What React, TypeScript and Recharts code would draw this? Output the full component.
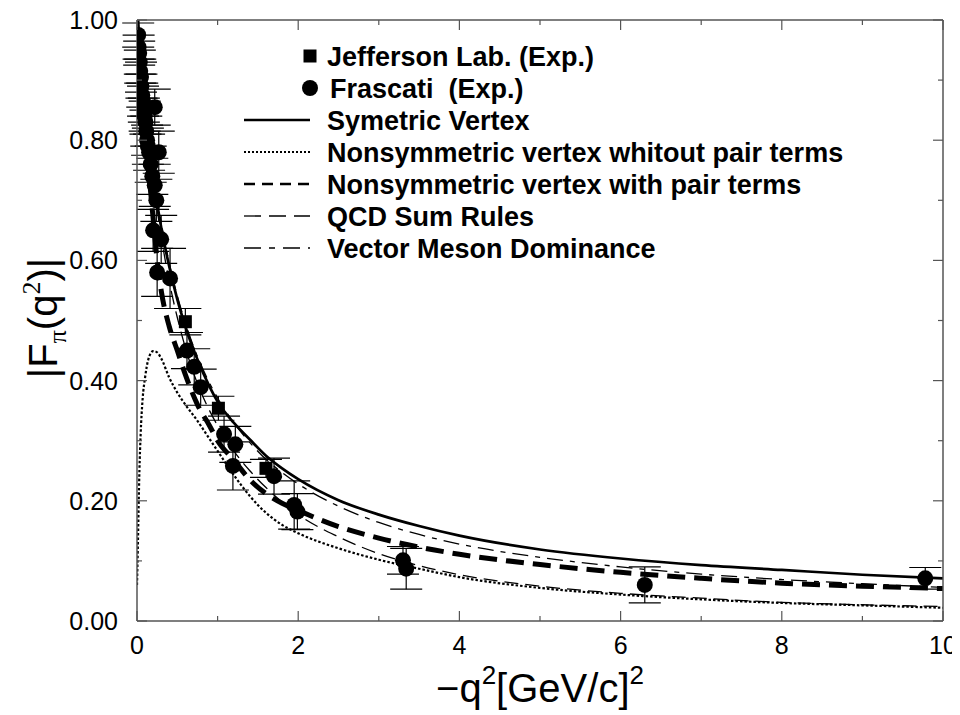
import React from 'react';
import { ComposedChart, Line, Scatter, XAxis, YAxis, ErrorBar } from 'recharts';

// -q^2 grid (GeV/c)^2 shared by all model curves
const qGrid = [0, 0.01, 0.02, 0.03, 0.045, 0.07, 0.1, 0.14, 0.2, 0.25, 0.3, 0.4, 0.5, 0.6, 0.75, 0.9, 1.0, 1.2, 1.4, 1.6, 1.8, 2.0, 2.5, 3.0, 3.5, 4, 5, 6, 7, 8, 9, 10];

const symmetricVertex = [1.0, 0.985, 0.97, 0.955, 0.935, 0.9, 0.86, 0.815, 0.745, 0.695, 0.655, 0.59, 0.535, 0.49, 0.435, 0.39, 0.365, 0.33, 0.302, 0.275, 0.254, 0.236, 0.201, 0.177, 0.158, 0.142, 0.119, 0.104, 0.093, 0.085, 0.077, 0.071];
const noPairTerms = [0.06, 0.12, 0.19, 0.25, 0.31, 0.37, 0.405, 0.435, 0.449, 0.447, 0.437, 0.405, 0.38, 0.36, 0.333, 0.303, 0.283, 0.243, 0.208, 0.18, 0.16, 0.146, 0.121, 0.102, 0.087, 0.073, 0.055, 0.044, 0.036, 0.03, 0.026, 0.022];
const withPairTerms = [1.0, 0.975, 0.95, 0.93, 0.9, 0.855, 0.81, 0.755, 0.67, 0.6, 0.55, 0.49, 0.45, 0.41, 0.36, 0.325, 0.3, 0.268, 0.235, 0.212, 0.196, 0.184, 0.157, 0.138, 0.123, 0.111, 0.094, 0.081, 0.071, 0.063, 0.058, 0.054];
const qcdSumRules = [1.0, 0.985, 0.97, 0.955, 0.93, 0.895, 0.855, 0.805, 0.735, 0.685, 0.64, 0.565, 0.505, 0.455, 0.395, 0.35, 0.325, 0.283, 0.25, 0.222, 0.198, 0.177, 0.14, 0.112, 0.092, 0.077, 0.058, 0.046, 0.038, 0.031, 0.027, 0.024];
const vectorMeson = [1.0, 0.983, 0.967, 0.952, 0.929, 0.894, 0.855, 0.808, 0.747, 0.703, 0.663, 0.596, 0.541, 0.496, 0.44, 0.396, 0.371, 0.33, 0.297, 0.269, 0.247, 0.228, 0.191, 0.164, 0.144, 0.128, 0.106, 0.09, 0.078, 0.069, 0.062, 0.056];

// experimental points
const jlabQ = [0.6, 1.01, 1.6];
const jlabF = [0.498, 0.354, 0.254];
const jlabErr = [0.022, 0.02, 0.015];

const frasQ = [0.015, 0.02, 0.027, 0.035, 0.04, 0.05, 0.055, 0.065, 0.075, 0.085, 0.095, 0.105, 0.115, 0.125, 0.135, 0.15, 0.22, 0.27, 0.17, 0.19, 0.22, 0.24, 0.2, 0.3, 0.25, 0.41, 0.62, 0.71, 0.79, 1.08, 1.22, 1.19, 1.7, 1.95, 1.99, 3.3, 3.34, 6.3, 9.78];
const frasF = [0.975, 0.955, 0.945, 0.93, 0.915, 0.905, 0.89, 0.875, 0.865, 0.85, 0.84, 0.83, 0.815, 0.8, 0.79, 0.78, 0.855, 0.78, 0.76, 0.74, 0.725, 0.7, 0.65, 0.635, 0.58, 0.57, 0.45, 0.423, 0.389, 0.311, 0.294, 0.258, 0.241, 0.193, 0.182, 0.101, 0.087, 0.06, 0.071];
const frasErr = [0.02, 0.02, 0.02, 0.02, 0.02, 0.025, 0.02, 0.02, 0.025, 0.02, 0.025, 0.02, 0.025, 0.025, 0.03, 0.03, 0.03, 0.035, 0.03, 0.03, 0.035, 0.035, 0.035, 0.04, 0.04, 0.05, 0.03, 0.03, 0.03, 0.03, 0.03, 0.04, 0.03, 0.04, 0.03, 0.023, 0.034, 0.03, 0.018];

const xTicks = [0, 1, 2, 3, 4, 5, 6, 7, 8, 9, 10];
const xLabels = ['0', '', '2', '', '4', '', '6', '', '8', '', '10'];
const yTicks = [0, 0.1, 0.2, 0.3, 0.4, 0.5, 0.6, 0.7, 0.8, 0.9, 1.0];
const yLabels = ['0.00', '', '0.20', '', '0.40', '', '0.60', '', '0.80', '', '1.00'];

const legendLabels = [
  'Jefferson Lab. (Exp.)',
  'Frascati  (Exp.)',
  'Symetric Vertex',
  'Nonsymmetric vertex whitout pair terms',
  'Nonsymmetric vertex with pair terms',
  'QCD Sum Rules',
  'Vector Meson Dominance',
];

const curveRows = qGrid.map((q, i) => ({
  q,
  sym: symmetricVertex[i],
  nopair: noPairTerms[i],
  pair: withPairTerms[i],
  qcd: qcdSumRules[i],
  vmd: vectorMeson[i],
}));
const jlabRows = jlabQ.map((q, i) => ({ q, y: jlabF[i], err: jlabErr[i] }));
const frasRows = frasQ.map((q, i) => ({ q, y: frasF[i], err: frasErr[i] }));

const AXIS = '#555';
const FONT = '"Liberation Sans", Arial, Helvetica, sans-serif';
const W = 952;

const isMajor = (v: number) => Math.round(v * 10) % 2 === 0;

function BottomTick({ x, y, payload }: any) {
  const i = xTicks.indexOf(payload.value);
  const major = xLabels[i] !== '';
  return (
    <g>
      <line x1={x} x2={x} y1={y} y2={y - (major ? 10 : 5)} stroke={AXIS} strokeWidth={1.2} />
      {major && (
        <text x={x} y={y + 33} textAnchor="middle" fontSize={25} fontFamily={FONT} fill="#000">
          {xLabels[i]}
        </text>
      )}
    </g>
  );
}

function TopTick({ x, y, payload }: any) {
  const len = xLabels[xTicks.indexOf(payload.value)] !== '' ? 10 : 5;
  return <line x1={x} x2={x} y1={y} y2={y + len} stroke={AXIS} strokeWidth={1.2} />;
}

function LeftTick({ x, y, payload }: any) {
  const v = payload.value;
  const i = Math.round(v * 10);
  const major = isMajor(v);
  return (
    <g>
      <line x1={x} x2={x + (major ? 10 : 5)} y1={y} y2={y} stroke={AXIS} strokeWidth={1.2} />
      {major && (
        <text x={x - 19} y={y + 9} textAnchor="end" fontSize={25} fontFamily={FONT} fill="#000">
          {yLabels[i]}
        </text>
      )}
    </g>
  );
}

function RightTick({ x, y, payload }: any) {
  const len = isMajor(payload.value) ? 10 : 5;
  return <line x1={x} x2={x - len} y1={y} y2={y} stroke={AXIS} strokeWidth={1.2} />;
}

const Circle = (p: any) => <circle cx={p.cx} cy={p.cy} r={8} fill="#000" />;
const Square = (p: any) => <rect x={p.cx - 6.5} y={p.cy - 6.5} width={13} height={13} fill="#000" />;

// legend line samples
const samples = [
  null,
  null,
  { w: 2.5, dash: undefined },
  { w: 1.8, dash: '2 2' },
  { w: 2.5, dash: '11 7' },
  { w: 1.3, dash: '17 8' },
  { w: 1.3, dash: '17 8 6 8' },
];

function Overlay() {
  // page coords minus the 8px body margin
  const o = 8;
  const rowY = (i: number) => 56 + i * 32 - o;
  return (
    <svg width={W} height={707} style={{ position: 'absolute', left: 0, top: 0, pointerEvents: 'none' }}>
      {/* y axis title */}
      <text transform={`translate(${57 - o},${318 - o}) rotate(-90)`} textAnchor="middle" fontSize={40} fontFamily={FONT}>
        |F
        <tspan dy={9} fontSize={26} fontFamily='"Liberation Serif", serif'>π</tspan>
        <tspan dy={-9}>(q</tspan>
        <tspan dy={-17} fontSize={26} fontFamily='"Liberation Serif", serif'>2</tspan>
        <tspan dy={17}>)|</tspan>
      </text>
      {/* x axis title */}
      <text x={540 - o} y={702 - o} textAnchor="middle" fontSize={40} fontFamily={FONT}>
        −q
        <tspan dy={-18} fontSize={26}>2</tspan>
        <tspan dy={18}>[GeV/c]</tspan>
        <tspan dy={-18} fontSize={26}>2</tspan>
      </text>
      {/* legend */}
      {legendLabels.map((label, i) => {
        const y = rowY(i);
        const s = samples[i];
        return (
          <g key={label}>
            {i === 0 && <rect x={310 - o - 6.5} y={y - 6.5} width={13} height={13} fill="#000" />}
            {i === 1 && <circle cx={310 - o} cy={y} r={8} fill="#000" />}
            {s && (
              <line x1={244 - o} x2={310 - o} y1={y} y2={y} stroke="#000" strokeWidth={s.w} strokeDasharray={s.dash} />
            )}
            <text x={(i === 1 ? 330 : 327) - o} y={y + 9.5} fontSize={27} fontWeight="bold" fontFamily={FONT} xmlSpace="preserve">
              {label}
            </text>
          </g>
        );
      })}
    </svg>
  );
}

export default function App() {
  return (
    <div style={{ position: 'relative', width: W, height: 707 }}>
      <ComposedChart width={W} height={700} data={curveRows} margin={{ top: 10, right: 15, bottom: 27, left: 0 }}>
        <XAxis
          dataKey="q"
          type="number"
          domain={[0, 10]}
          ticks={xTicks}
          interval={0}
          tickSize={0}
          tickMargin={0}
          tick={<BottomTick />}
          height={60}
          allowDataOverflow
          axisLine={{ stroke: AXIS, strokeWidth: 1.5 }}
        />
        <XAxis
          xAxisId="top"
          orientation="top"
          dataKey="q"
          type="number"
          domain={[0, 10]}
          ticks={xTicks}
          interval={0}
          tickSize={0}
          tickMargin={0}
          tick={<TopTick />}
          height={2}
          allowDataOverflow
          axisLine={{ stroke: AXIS, strokeWidth: 1.5 }}
        />
        <YAxis
          type="number"
          domain={[0, 1]}
          ticks={yTicks}
          interval={0}
          tickSize={0}
          tickMargin={0}
          tick={<LeftTick />}
          width={129}
          allowDataOverflow
          axisLine={{ stroke: AXIS, strokeWidth: 1.5 }}
        />
        <YAxis
          yAxisId="right"
          orientation="right"
          type="number"
          domain={[0, 1]}
          ticks={yTicks}
          interval={0}
          tickSize={0}
          tickMargin={0}
          tick={<RightTick />}
          width={2}
          allowDataOverflow
          axisLine={{ stroke: AXIS, strokeWidth: 1.5 }}
        />

        <Line dataKey="sym" type="monotone" stroke="#000" strokeWidth={2.7} dot={false} isAnimationActive={false} />
        <Line dataKey="nopair" type="monotone" stroke="#000" strokeWidth={2.2} strokeDasharray="2.5 2" dot={false} isAnimationActive={false} />
        <Line dataKey="pair" type="monotone" stroke="#000" strokeWidth={5} strokeDasharray="18 9" dot={false} isAnimationActive={false} />
        <Line dataKey="qcd" type="monotone" stroke="#000" strokeWidth={1.3} strokeDasharray="14 7" dot={false} isAnimationActive={false} />
        <Line dataKey="vmd" type="monotone" stroke="#000" strokeWidth={1.3} strokeDasharray="16 7 5 7" dot={false} isAnimationActive={false} />

        <Scatter data={jlabRows} dataKey="y" shape={Square} isAnimationActive={false}>
          <ErrorBar dataKey="err" direction="y" width={16} stroke="#000" strokeWidth={1.2} isAnimationActive={false} />
        </Scatter>
        <Scatter data={frasRows} dataKey="y" shape={Circle} isAnimationActive={false}>
          <ErrorBar dataKey="err" direction="y" width={16} stroke="#000" strokeWidth={1.2} isAnimationActive={false} />
        </Scatter>
      </ComposedChart>
      <Overlay />
    </div>
  );
}
